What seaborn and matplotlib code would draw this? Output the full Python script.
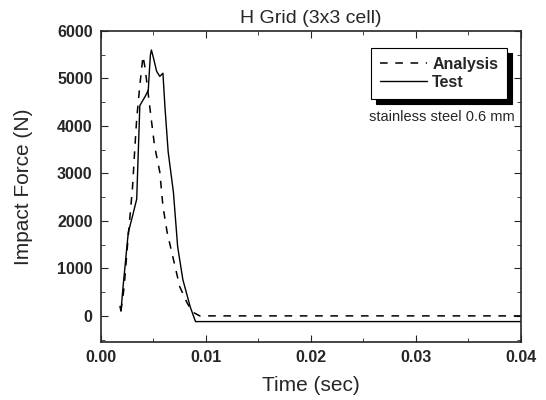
import numpy as np
import pandas as pd
import seaborn as sns
import matplotlib.pyplot as plt
from matplotlib.ticker import MultipleLocator

# dados
t_analise = [0.0019, 0.0022, 0.0026, 0.0030, 0.0032, 0.0034, 0.0037, 0.0040, 0.0042,
             0.0047, 0.0051, 0.0056, 0.0059, 0.0063, 0.0069, 0.0075, 0.0082, 0.0087,
             0.0094, 0.0200, 0.0400]
f_analise = [100, 600, 1700, 2700, 3450, 4150, 4860, 5470, 5220,
             4300, 3580, 3030, 2310, 1760, 1190, 615, 275, 85,
             0, 0, 0]

t_teste = [0.0018, 0.0019, 0.0021, 0.0026, 0.0030, 0.0034, 0.0037, 0.0042, 0.0045,
           0.0047, 0.0048, 0.0050, 0.0053, 0.0056, 0.0059, 0.0061, 0.0064, 0.0069,
           0.0073, 0.0078, 0.0085, 0.0090, 0.0200, 0.0400]
f_teste = [200, 100, 615, 1760, 2100, 2460, 4430, 4620, 4750,
           5490, 5600, 5430, 5150, 5045, 5110, 4370, 3450, 2600,
           1460, 760, 190, -120, -120, -120]

df_a = pd.DataFrame({'t': t_analise, 'f': f_analise})
df_t = pd.DataFrame({'t': t_teste, 'f': f_teste})

sns.set_style('ticks')
plt.rcParams['font.family'] = ['Liberation Sans', 'DejaVu Sans']

fig = plt.figure(figsize=(5.46, 4.0), dpi=100)
ax = fig.add_axes([0.185, 0.145, 0.769, 0.7775])

sns.lineplot(data=df_a, x='t', y='f', ax=ax, color='black', linestyle=(0, (5, 5)),
             linewidth=1.1, label='Analysis')
sns.lineplot(data=df_t, x='t', y='f', ax=ax, color='black', linewidth=1.0, label='Test')

ax.set_xlim(0, 0.04)
ax.set_ylim(-550, 6000)
ax.xaxis.set_major_locator(MultipleLocator(0.01))
ax.xaxis.set_minor_locator(MultipleLocator(0.005))
ax.yaxis.set_major_locator(MultipleLocator(1000))
ax.yaxis.set_minor_locator(MultipleLocator(500))
ax.xaxis.set_major_formatter(plt.FuncFormatter(lambda v, p: f'{v:.2f}'))
ax.tick_params(which='both', direction='in', top=True, right=True, labelsize=11.5)
ax.tick_params(which='major', length=5, pad=6)
ax.tick_params(which='minor', length=3)
for lb in ax.get_xticklabels() + ax.get_yticklabels():
    lb.set_fontweight('bold')
for s in ax.spines.values():
    s.set_linewidth(1.2)

ax.set_xlabel('Time (sec)', fontsize=15, labelpad=8)
ax.set_ylabel('Impact Force (N)', fontsize=15, labelpad=17)
ax.set_title('H Grid (3x3 cell)', fontsize=14, pad=6)

leg = ax.legend(loc='upper right', bbox_to_anchor=(0.967, 0.945), fontsize=11.5,
                frameon=True, fancybox=False,
                shadow={'color': 'black', 'alpha': 1, 'ox': 3.5, 'oy': -3.5},
                handlelength=3.0, handletextpad=0.3, borderpad=0.55, labelspacing=0.2,
                borderaxespad=0)
leg.get_frame().set_edgecolor('black')
leg.get_frame().set_linewidth(0.8)
for txt in leg.get_texts():
    txt.set_fontweight('semibold')

ax.text(0.985, 0.7235, 'stainless steel 0.6 mm', transform=ax.transAxes,
        ha='right', va='center', fontsize=10.5)

plt.savefig('out.png', dpi=100)
